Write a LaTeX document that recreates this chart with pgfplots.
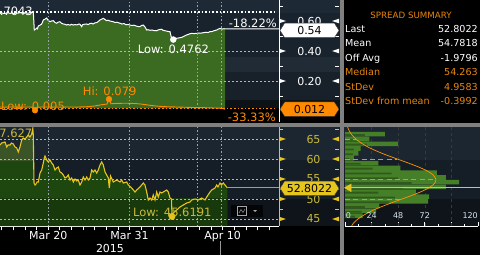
\documentclass[border=0pt]{standalone}
\usepackage{pgfplots}
\pgfplotsset{compat=1.18}
\usepackage{fontspec}
\setmainfont{DejaVu Sans}
\usetikzlibrary{shapes.symbols}
\definecolor{bandA}{HTML}{1D2934}
\definecolor{bandB}{HTML}{18232E}
\definecolor{bandC}{HTML}{212B35}
\definecolor{bandD}{HTML}{182029}
\definecolor{bandE}{HTML}{0D1217}
\definecolor{lbandA}{HTML}{1C2631}
\definecolor{lbandB}{HTML}{151E27}
\definecolor{lbandC}{HTML}{0E1419}
\definecolor{topgreen}{HTML}{3B6A21}
\definecolor{botgreen}{HTML}{1E460F}
\definecolor{botdark}{HTML}{18390B}
\definecolor{botolive}{HTML}{3A5428}
\definecolor{goldline}{HTML}{E6C51E}
\definecolor{goldtext}{HTML}{C9BB3A}
\definecolor{bbgorange}{HTML}{FF8A00}
\definecolor{sumorange}{HTML}{E8860C}
\definecolor{histgreen}{HTML}{457F28}
\definecolor{sepgray}{HTML}{808080}
\definecolor{gridgray}{HTML}{9AA4AE}
\definecolor{histlab}{HTML}{D8E4F0}
\newcommand\fs[1]{\fontsize{#1}{#1}\selectfont}
\pgfplotsset{/pgf/number format/assume math mode=true}

\begin{document}
\begin{tikzpicture}
\path[use as bounding box] (0pt,0pt) rectangle (480pt,255pt);
\fill[black] (0pt,0pt) rectangle (480pt,255pt);
\begin{scope}[x=1pt,y=1pt]
% top panel bands
\fill[bandA] (0,242) rectangle (340,255);
\fill[bandB] (0,198) rectangle (340,242);
\fill[bandC] (0,183) rectangle (340,198);
\fill[bandD] (0,155) rectangle (340,183);
\fill[bandE] (0,147) rectangle (340,155);
% bottom panel bands
\fill[lbandA] (0,95) rectangle (340,128);
\fill[lbandB] (0,56) rectangle (340,95);
\fill[lbandC] (0,29) rectangle (340,56);
\fill[lbandA] (344,95) rectangle (480,128);
\fill[lbandB] (344,56) rectangle (480,95);
\fill[lbandC] (344,29) rectangle (480,56);
\end{scope}

%================ TOP AXIS =================
\begin{axis}[
  at={(0pt,133pt)}, anchor=south west, scale only axis,
  width=279pt, height=122pt,
  xmin=0, xmax=279, ymin=-0.0733, ymax=0.74,
  axis x line=none, axis y line*=right,
  y axis line style={white, line width=0.8pt, -},
  ytick={0.2,0.4,0.6}, yticklabels={0.20,0.40,0.60},
  major tick length=0pt,
  yticklabel style={anchor=center, xshift=30.5pt, text=white, font=\fs{11}},
  clip mode=individual,
]
% green area under the ratio
\addplot[draw=none, fill=topgreen] coordinates {
(0,0.651) (2,0.653) (4,0.650) (6,0.652) (8,0.655) (10,0.651) (12,0.653) (14,0.650) (16,0.654) (18,0.652) (20,0.656) (22,0.653) (24,0.651) (26,0.654) (28,0.652) (30,0.655) (32,0.657) (33.3,0.662) (34.3,0.540) (35.5,0.545) (36.7,0.553) (37.5,0.548) (38.3,0.567) (40,0.572) (41.7,0.580) (42.5,0.592) (43.3,0.607) (45,0.612) (46.7,0.620) (48,0.605) (50,0.595) (51.5,0.600) (53.3,0.602) (55,0.590) (56.7,0.585) (58,0.592) (60,0.595) (61.5,0.585) (63.3,0.580) (65,0.578) (66.7,0.573) (68,0.577) (70,0.572) (71.5,0.578) (73.3,0.573) (75,0.576) (77,0.574) (79,0.580) (80,0.578) (81.7,0.562) (82.5,0.575) (84,0.578) (86.7,0.580) (88,0.576) (90,0.583) (91.7,0.585) (93,0.580) (95,0.588) (96.7,0.589) (98,0.595) (100,0.607) (101.5,0.612) (103.3,0.618) (105,0.610) (106.7,0.602) (108,0.605) (110,0.600) (112,0.597) (113.3,0.595) (115,0.590) (117,0.592) (120,0.585) (122,0.580) (124,0.583) (126,0.575) (128,0.577) (130,0.573) (132,0.570) (134,0.572) (136,0.567) (138,0.563) (140,0.562) (141.5,0.570) (143.3,0.573) (145,0.560) (146.7,0.540) (148,0.542) (150,0.538) (152,0.540) (154,0.536) (156.7,0.535) (158,0.540) (159.5,0.543) (161.7,0.545) (163,0.538) (165,0.535) (167,0.532) (168.5,0.530) (170,0.529) (171,0.500) (171.7,0.485) (173.3,0.476) (175,0.480) (176.7,0.485) (178,0.486) (180,0.489) (181.7,0.491) (183,0.495) (185,0.502) (186.7,0.507) (188,0.510) (190,0.515) (191.7,0.518) (194,0.516) (196.7,0.518) (199,0.520) (201,0.519) (203.3,0.522) (206,0.525) (208,0.523) (210,0.529) (212,0.530) (214,0.535) (216.7,0.540) (218,0.545) (220,0.551) (222,0.546) (224,0.549) (225,0.547)
(225,0.018) (0,0.018)};
% reference dotted lines
\addplot[white, line width=1.4pt, dash pattern=on 1.6pt off 2pt] coordinates {(0,0.66) (277,0.66)};
\addplot[bbgorange, line width=1.4pt, dash pattern=on 1.6pt off 2pt] coordinates {(0,0.018) (277,0.018)};
% white ratio line
\addplot[white, line width=1pt] coordinates {
(0,0.651) (2,0.653) (4,0.650) (6,0.652) (8,0.655) (10,0.651) (12,0.653) (14,0.650) (16,0.654) (18,0.652) (20,0.656) (22,0.653) (24,0.651) (26,0.654) (28,0.652) (30,0.655) (32,0.657) (33.3,0.662) (34.3,0.540) (35.5,0.545) (36.7,0.553) (37.5,0.548) (38.3,0.567) (40,0.572) (41.7,0.580) (42.5,0.592) (43.3,0.607) (45,0.612) (46.7,0.620) (48,0.605) (50,0.595) (51.5,0.600) (53.3,0.602) (55,0.590) (56.7,0.585) (58,0.592) (60,0.595) (61.5,0.585) (63.3,0.580) (65,0.578) (66.7,0.573) (68,0.577) (70,0.572) (71.5,0.578) (73.3,0.573) (75,0.576) (77,0.574) (79,0.580) (80,0.578) (81.7,0.562) (82.5,0.575) (84,0.578) (86.7,0.580) (88,0.576) (90,0.583) (91.7,0.585) (93,0.580) (95,0.588) (96.7,0.589) (98,0.595) (100,0.607) (101.5,0.612) (103.3,0.618) (105,0.610) (106.7,0.602) (108,0.605) (110,0.600) (112,0.597) (113.3,0.595) (115,0.590) (117,0.592) (120,0.585) (122,0.580) (124,0.583) (126,0.575) (128,0.577) (130,0.573) (132,0.570) (134,0.572) (136,0.567) (138,0.563) (140,0.562) (141.5,0.570) (143.3,0.573) (145,0.560) (146.7,0.540) (148,0.542) (150,0.538) (152,0.540) (154,0.536) (156.7,0.535) (158,0.540) (159.5,0.543) (161.7,0.545) (163,0.538) (165,0.535) (167,0.532) (168.5,0.530) (170,0.529) (171,0.500) (171.7,0.485) (173.3,0.476) (175,0.480) (176.7,0.485) (178,0.486) (180,0.489) (181.7,0.491) (183,0.495) (185,0.502) (186.7,0.507) (188,0.510) (190,0.515) (191.7,0.518) (194,0.516) (196.7,0.518) (199,0.520) (201,0.519) (203.3,0.522) (206,0.525) (208,0.523) (210,0.529) (212,0.530) (214,0.535) (216.7,0.540) (218,0.545) (220,0.551) (222,0.546) (224,0.549) (225,0.547) (279,0.547)};
% orange line
\addplot[bbgorange, line width=0.9pt] coordinates {
(0,0.027) (5,0.026) (10,0.027) (15,0.027) (20,0.025) (25,0.027) (30,0.027) (33,0.025) (35,0.005) (37,0.025) (42,0.027) (47,0.027) (52,0.026) (57,0.027) (62,0.025) (67,0.027) (72,0.027) (77,0.026) (82,0.028) (85,0.028) (90,0.030) (95,0.034) (100,0.040) (104,0.044) (107,0.046) (109,0.079) (111,0.048) (115,0.050) (120,0.051) (125,0.052) (130,0.051) (135,0.050) (140,0.047) (145,0.043) (150,0.038) (155,0.034) (160,0.031) (165,0.029) (170,0.028) (175,0.027) (180,0.026) (185,0.025) (190,0.024) (195,0.023) (200,0.023) (205,0.022) (210,0.021) (215,0.020) (220,0.019) (223,0.016) (225,0.012)};
% extreme points
\addplot[only marks, mark=*, mark size=3pt, white] coordinates {(173.3,0.4762)};
\addplot[only marks, mark=*, mark size=2.9pt, bbgorange] coordinates {(35,0.005) (109,0.079)};
% grid
\pgfplotsinvokeforeach{48.2,129.6,197,221.5}{
  \draw[gridgray, line width=0.5pt, dash pattern=on 1.5pt off 2pt] (axis cs:#1,0.018) -- (axis cs:#1,0.74);}
\pgfplotsinvokeforeach{0.2,0.4}{
  \draw[gridgray!80!white, line width=0.6pt, dash pattern=on 1.5pt off 2.5pt] (axis cs:0,#1) -- (axis cs:279,#1);}
% labels
\node[anchor=east, inner sep=0, text=white, font=\fs{11.5}] at (axis cs:33,0.667) {0.7043};
\node[anchor=west, inner sep=0, text=white, font=\fs{11.5}] at (axis cs:137.7,0.411) {Low: 0.4762};
\node[anchor=west, inner sep=0, text=bbgorange, font=\fs{11.5}] at (axis cs:82.7,0.133) {Hi: 0.079};
\node[anchor=west, inner sep=0, text=bbgorange, font=\fs{11.5}] at (axis cs:1,0.029) {Low: 0.005};
\node[anchor=east, inner sep=0, text=white, font=\fs{11.5}] at (axis cs:277,0.587) {-18.22\%};
\node[anchor=east, inner sep=0, text=bbgorange, font=\fs{11.5}] at (axis cs:276,-0.04) {-33.33\%};
\end{axis}

%================ BOTTOM AXIS =================
\begin{axis}[
  at={(0pt,29pt)}, anchor=south west, scale only axis,
  width=279pt, height=99pt,
  xmin=0, xmax=279, ymin=43.25, ymax=68,
  axis x line*=bottom, axis y line*=right,
  x axis line style={white, line width=0.8pt, -},
  y axis line style={goldline, line width=0.8pt, -},
  xtick={48.2,129.6,222.7}, xticklabels={Mar 20,Mar 31,Apr 10},
  minor xtick={1.7,13.3,24.96,36.6,59.85,71.5,83.1,94.7,106.4,118,141.3,152.9,164.5,176.2,187.8,199.4,211,234.3,245.9,257.6,269.2},
  tick align=outside,
  xtick style={white, line width=0.8pt},
  major tick length=4pt, minor tick length=4pt,
  ytick={45,50,55,60,65}, yticklabels={45,50,55,60,65},
  ytick style={draw=none},
  yticklabel style={anchor=center, xshift=30.5pt, text=goldtext, font=\fs{11}},
  xticklabel style={text=white, font=\fs{11}, yshift=2.5pt},
  clip mode=individual,
]
\addplot[draw=none, fill=botgreen] coordinates {
(0,63.5) (1.7,64.0) (5,64.25) (6.7,63.0) (8,63.5) (10,63.5) (11.5,64.0) (13.3,63.75) (15,63.0) (16.7,62.75) (18.3,61.75) (20,63.0) (21.7,64.75) (23.3,65.25) (25,65.0) (26.7,65.5) (28.3,66.0) (30,65.5) (31.7,66.25) (32.8,67.6) (33.3,66.0) (34,54.0) (35,53.5) (36,53.75) (37,54.25) (38.3,54.25) (40,56.5) (41.7,57.25) (43.3,59.0) (44.3,60.25) (45,60.75) (46.7,59.75) (48.3,59.25) (50,59.75) (51.7,59.0) (53.3,58.5) (55,57.25) (56.7,57.75) (58.3,58.0) (60,56.75) (61.7,56.5) (63.3,56.0) (65,55.25) (66.7,55.5) (68.3,56.0) (70,54.75) (71.7,55.25) (73.3,54.25) (75,55.0) (76.7,54.5) (78.3,54.75) (80,53.5) (81.7,54.25) (83.3,55.5) (85,54.75) (86.7,55.5) (88.3,54.75) (90,55.25) (91.7,57.25) (93.3,56.75) (95,57.25) (96.7,56.5) (98.3,57.25) (100,58.5) (101.7,59.25) (103.3,58.5) (105,56.75) (106.7,56.0) (108.3,55.25) (109.3,52.75) (110.5,55.75) (113.3,54.25) (116.7,54.75) (120,54.25) (121.7,54.75) (123.3,54.0) (126.7,54.25) (128.3,53.5) (131.7,52.75) (135,51.75) (136.7,52.25) (140,53.0) (143.3,54.0) (145,53.5) (146.7,51.75) (148.3,49.75) (150,50.25) (151.7,49.75) (153.3,51.0) (155,49.75) (156.7,51.75) (158.3,50.5) (160,51.75) (161.7,51.5) (163.3,51.75) (166.7,52.25) (168.3,51.75) (170,50.25) (171.5,50.0) (172,45.62) (173.3,46.5) (176.7,47.25) (180,48.0) (183.3,48.5) (186.7,49.0) (190,49.25) (191.7,49.75) (195,50.0) (198.3,49.75) (201.7,50.25) (205,49.75) (206.7,50.5) (210,51.75) (211.7,52.25) (215,52.75) (216.7,53.5) (218,53.0) (220,54.0) (221.5,53.5) (223.3,54.0) (225,53.5) (227.3,52.8)
(227.3,43.25) (0,43.25)};
\addplot[draw=none, fill=botdark] coordinates {(0,50.25) (227.3,50.25) (227.3,43.25) (0,43.25)};
\addplot[draw=none, fill=botolive] coordinates {
(0,63.5) (1.7,64.0) (5,64.25) (6.7,63.0) (8,63.5) (10,63.5) (11.5,64.0) (13.3,63.75) (15,63.0) (16.7,62.75) (18.3,61.75) (20,63.0) (21.7,64.75) (23.3,65.25) (25,65.0) (26.7,65.5) (28.3,66.0) (30,65.5) (31.7,66.25) (32.8,67.6) (33.3,66.0) (33.45,59.5) (0,59.5)};
% grid
\pgfplotsinvokeforeach{48.2,129.6,197,221.5}{
  \draw[gridgray, line width=0.5pt, dash pattern=on 1.5pt off 2pt] (axis cs:#1,43.25) -- (axis cs:#1,68);}
\pgfplotsinvokeforeach{45,50,55,60,65}{
  \draw[gridgray!80!white, line width=0.6pt, dash pattern=on 1.5pt off 2.5pt] (axis cs:0,#1) -- (axis cs:279,#1);}
% spread line
\addplot[goldline, line width=1.1pt] coordinates {
(0,63.5) (1.7,64.0) (5,64.25) (6.7,63.0) (8,63.5) (10,63.5) (11.5,64.0) (13.3,63.75) (15,63.0) (16.7,62.75) (18.3,61.75) (20,63.0) (21.7,64.75) (23.3,65.25) (25,65.0) (26.7,65.5) (28.3,66.0) (30,65.5) (31.7,66.25) (32.8,67.6) (33.3,66.0) (34,54.0) (35,53.5) (36,53.75) (37,54.25) (38.3,54.25) (40,56.5) (41.7,57.25) (43.3,59.0) (44.3,60.25) (45,60.75) (46.7,59.75) (48.3,59.25) (50,59.75) (51.7,59.0) (53.3,58.5) (55,57.25) (56.7,57.75) (58.3,58.0) (60,56.75) (61.7,56.5) (63.3,56.0) (65,55.25) (66.7,55.5) (68.3,56.0) (70,54.75) (71.7,55.25) (73.3,54.25) (75,55.0) (76.7,54.5) (78.3,54.75) (80,53.5) (81.7,54.25) (83.3,55.5) (85,54.75) (86.7,55.5) (88.3,54.75) (90,55.25) (91.7,57.25) (93.3,56.75) (95,57.25) (96.7,56.5) (98.3,57.25) (100,58.5) (101.7,59.25) (103.3,58.5) (105,56.75) (106.7,56.0) (108.3,55.25) (109.3,52.75) (110.5,55.75) (113.3,54.25) (116.7,54.75) (120,54.25) (121.7,54.75) (123.3,54.0) (126.7,54.25) (128.3,53.5) (131.7,52.75) (135,51.75) (136.7,52.25) (140,53.0) (143.3,54.0) (145,53.5) (146.7,51.75) (148.3,49.75) (150,50.25) (151.7,49.75) (153.3,51.0) (155,49.75) (156.7,51.75) (158.3,50.5) (160,51.75) (161.7,51.5) (163.3,51.75) (166.7,52.25) (168.3,51.75) (170,50.25) (171.5,50.0) (172,45.62) (173.3,46.5) (176.7,47.25) (180,48.0) (183.3,48.5) (186.7,49.0) (190,49.25) (191.7,49.75) (195,50.0) (198.3,49.75) (201.7,50.25) (205,49.75) (206.7,50.5) (210,51.75) (211.7,52.25) (215,52.75) (216.7,53.5) (218,53.0) (220,54.0) (221.5,53.5) (223.3,54.0) (225,53.5) (227.3,52.8)};
\addplot[bbgorange, line width=0.9pt] coordinates {(227.3,52.8) (279,52.8)};
\addplot[only marks, mark=*, mark size=3.2pt, goldline] coordinates {(172,45.62)};
\node[anchor=east, inner sep=0, text=goldtext, font=\fs{11.5}] at (axis cs:32.5,66.5) {67.627};
\node[anchor=west, inner sep=0, text=goldtext, font=\fs{11.5}] at (axis cs:133,46.6) {Low: 45.6191};
\end{axis}

%================ HISTOGRAM =================
\begin{axis}[
  at={(345pt,29pt)}, anchor=south west, scale only axis,
  width=133pt, height=99pt,
  xmin=0, xmax=120, ymin=43.25, ymax=68,
  axis x line*=bottom, axis y line=none,
  x axis line style={white, line width=0.8pt, -},
  xtick={0,24,48,72,96,120}, minor xtick={12,36,60,84,108},
  xticklabels={},
  tick align=inside, major tick length=4pt, minor tick length=2pt,
  xtick style={white, line width=0.8pt},
  clip mode=individual,
]
\pgfplotsinvokeforeach{24,48,72,96}{
  \draw[gray!45!black, line width=0.6pt, dash pattern=on 3pt off 3pt] (axis cs:#1,43.25) -- (axis cs:#1,68);}
\addplot[xbar, bar width=1.12, bar shift=0pt, fill=histgreen, draw=none] coordinates {
(16,45.8) (28,47.0) (31,48.2) (75,49.4) (76,50.6) (64,51.8) (91,53.0) (103,54.2) (91,55.4) (83,56.6) (50,57.8) (30,59.0) (8,60.2) (12,61.4) (14,62.6) (48,63.8) (22,65.0) (36,66.2)};
\addplot[xbar, bar width=0.45, bar shift=0pt, fill=histgreen!70!black, draw=none] coordinates {
(9,45.6) (15,46.8) (18,48.0) (40,49.2) (45,50.4) (30,51.6) (52,52.8) (60,54.0) (48,55.2) (42,56.4) (25,57.6) (14,58.8) (4,60.0) (7,61.2) (8,62.4) (20,63.6) (10,64.8) (18,66.0)};
\addplot[bbgorange, line width=0.9pt, dash pattern=on 5pt off 3.3pt] coordinates {(0,65) (9.8,65)};
\addplot[bbgorange, line width=0.9pt, dash pattern=on 5pt off 3.3pt] coordinates {(0,60) (47.1,60)};
\addplot[bbgorange, line width=0.9pt, dash pattern=on 5pt off 3.3pt] coordinates {(0,55) (81.9,55)};
\addplot[bbgorange, line width=0.9pt, dash pattern=on 5pt off 3.3pt] coordinates {(0,50) (51.5,50)};
\addplot[bbgorange!90!yellow, line width=0.7pt, smooth] coordinates {
(6.0,43.25) (7.7,44) (11.7,45) (17.1,46) (23.9,47) (32.2,48) (41.6,49) (51.5,50) (61.3,51) (70.1,52) (76.9,53) (81.0,54) (82,54.78) (81.9,55) (79.6,56) (74.2,57) (66.4,58) (57.1,59) (47.1,60) (37.3,61) (28.4,62) (20.7,63) (14.6,64) (9.8,65) (6.3,66) (3.9,67) (2.3,68)};
\draw[goldline, line width=0.9pt] (axis cs:0,52.8) -- (axis cs:122,52.8);
\addplot[only marks, mark=triangle*, mark size=4.5pt, mark options={rotate=90, fill=goldline, draw=goldline}] coordinates {(3.6,52.8)};
\node[anchor=west, inner sep=0, text=histlab, font=\fs{8}] at (axis cs:0.5,45.8) {0};
\node[inner sep=0, text=histlab, font=\fs{8}] at (axis cs:24,45.8) {24};
\node[inner sep=0, text=histlab, font=\fs{8}] at (axis cs:48,45.8) {48};
\node[inner sep=0, text=histlab, font=\fs{8}] at (axis cs:72,45.8) {72};
\node[anchor=east, inner sep=0, text=histlab, font=\fs{8}] at (axis cs:120,45.8) {120};
\end{axis}

\begin{scope}[x=1pt,y=1pt]
% widget box
\fill[black!75!lbandC] (231,38) rectangle (263,50);
\draw[gray!70, line width=0.5pt] (237.5,39.5) rectangle (246.5,48.5);
\draw[gray!80, line width=0.5pt] (239,42) -- (241,45.5) -- (243,42.5) -- (245,46);
\fill[gray!70] (253,45) -- (257,45) -- (255,43) -- cycle;

% right axis decorations (top, white)
\foreach \yy in {174,204,234}{
  \fill[white] (279,\yy+2.3) -- (286,\yy) -- (279,\yy-2.3) -- cycle;
  \fill[white] (339,\yy+2.3) -- (332,\yy) -- (339,\yy-2.3) -- cycle;}
\foreach \yy in {159,189,219,249}{
  \draw[white, line width=0.7pt] (279,\yy) -- (283,\yy);
  \draw[white, line width=0.7pt] (335,\yy) -- (339,\yy);}
% right axis decorations (bottom, gold)
\foreach \yy in {36,56,76,96,116}{
  \fill[goldline] (279,\yy+2.3) -- (286,\yy) -- (279,\yy-2.3) -- cycle;
  \fill[goldline] (339,\yy+2.3) -- (332,\yy) -- (339,\yy-2.3) -- cycle;}
\foreach \yy in {46,66,86,106,126}{
  \draw[goldline, line width=0.7pt] (279,\yy) -- (283,\yy);
  \draw[goldline, line width=0.7pt] (335,\yy) -- (339,\yy);}

% separators
\fill[sepgray] (0,128) rectangle (480,132);
\fill[sepgray] (340,0) rectangle (344,255);
\draw[gray!80, line width=0.8pt] (220.5,0) -- (220.5,14);

% value tags
\node[signal, signal to=west and east, signal pointer angle=115, fill=white, draw=black!80, line width=0.4pt, minimum width=59pt, minimum height=14.5pt, inner sep=0, text=black, font=\fs{11}] at (309.5,224.6) {0.54};
\node[signal, signal to=west and east, signal pointer angle=115, fill=bbgorange, draw=black!80, line width=0.4pt, minimum width=59pt, minimum height=14.5pt, inner sep=0, text=black, font=\fs{11}] at (309.5,145.8) {0.012};
\node[signal, signal to=west and east, signal pointer angle=115, fill=goldline, draw=black!80, line width=0.4pt, minimum width=59pt, minimum height=14.5pt, inner sep=0, text=black, font=\fs{11}] at (309.5,66.7) {52.8022};

% x axis year
\node[text=white, font=\fs{11}] at (110,7) {2015};

% summary panel
\node[anchor=base, inner sep=0, text=sumorange, font=\fs{8.7}] at (411,236) {SPREAD SUMMARY};
\node[anchor=base west, inner sep=0, text=white, font=\fs{9.6}] at (345,222.3) {Last};
\node[anchor=base east, inner sep=0, text=white, font=\fs{9.6}] at (478,222.3) {52.8022};
\node[anchor=base west, inner sep=0, text=white, font=\fs{9.6}] at (345,208) {Mean};
\node[anchor=base east, inner sep=0, text=white, font=\fs{9.6}] at (478,208) {54.7818};
\node[anchor=base west, inner sep=0, text=white, font=\fs{9.6}] at (345,193.5) {Off Avg};
\node[anchor=base east, inner sep=0, text=white, font=\fs{9.6}] at (478,193.5) {-1.9796};
\node[anchor=base west, inner sep=0, text=sumorange, font=\fs{9.6}] at (345,179) {Median};
\node[anchor=base east, inner sep=0, text=sumorange, font=\fs{9.6}] at (478,179) {54.263};
\node[anchor=base west, inner sep=0, text=sumorange, font=\fs{9.6}] at (345,164.5) {StDev};
\node[anchor=base east, inner sep=0, text=sumorange, font=\fs{9.6}] at (478,164.5) {4.9583};
\node[anchor=base west, inner sep=0, text=sumorange, font=\fs{9.6}] at (345,150) {StDev from mean};
\node[anchor=base east, inner sep=0, text=sumorange, font=\fs{9.6}] at (478,150) {-0.3992};
\end{scope}
\end{tikzpicture}
\end{document}
